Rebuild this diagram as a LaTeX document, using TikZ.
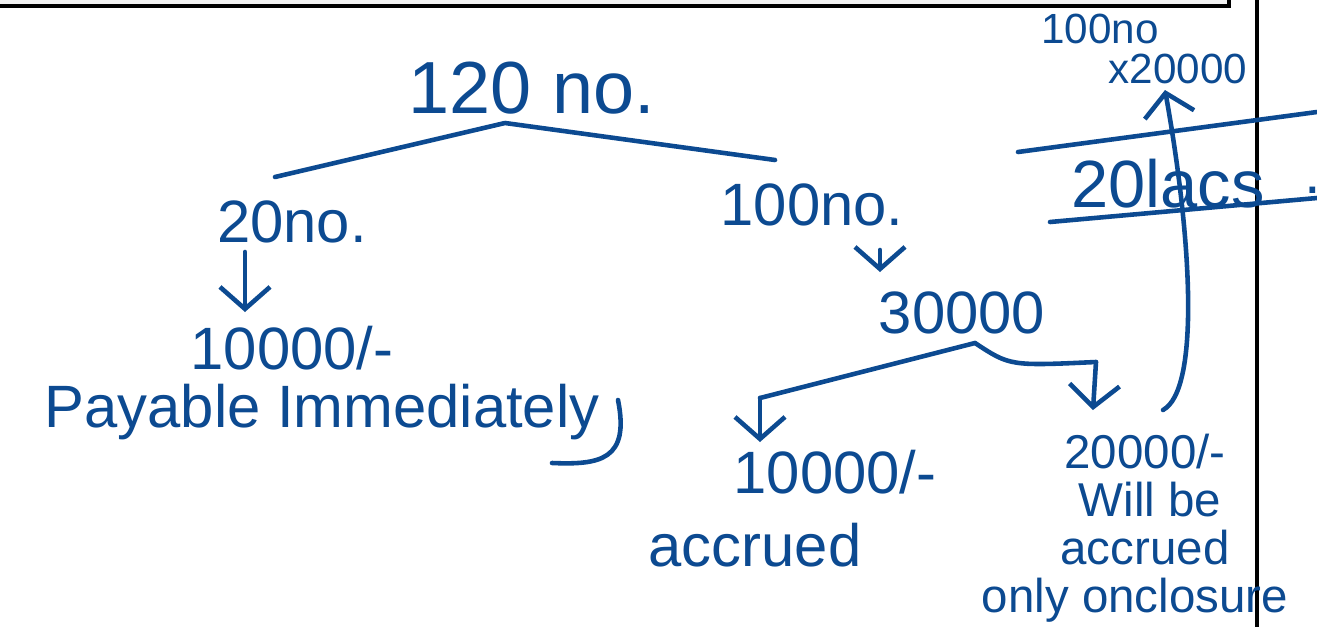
\documentclass[tikz,border=0pt]{standalone}
\usepackage{fontspec}
\setmainfont{Liberation Sans}
\usetikzlibrary{arrows.meta}
\definecolor{ink}{RGB}{12,74,145}
\begin{document}
\begin{tikzpicture}[x=0.01cm,y=-0.01cm,
  inkline/.style={draw=ink,line width=1.3pt,line cap=round,line join=round},
  lbl/.style={text=ink,inner sep=1pt},
  big/.style={font=\fontsize{21}{23}\selectfont},
  mid/.style={font=\fontsize{17}{19}\selectfont},
  small/.style={font=\fontsize{13.5}{15}\selectfont},
  tiny/.style={font=\fontsize{12}{13}\selectfont},
  tip/.style={-{Straight Barb[length=2.2mm,width=5mm,line width=1.3pt]}}]
\useasboundingbox (0,0) rectangle (1317,627);
\fill[white] (0,0) rectangle (1317,627);
\filldraw[fill=gray!10,draw=black,line width=1pt] (-5,-5) rectangle (1229,6);
\draw[black,line width=1pt] (1257,-5) -- (1257,632);

% nodes
\node[lbl,big] (n120) at (532,88) {120 no.};
\node[lbl,mid] (n20) at (292,222) {20no.};
\node[lbl,mid] (p10k) at (292,348) {10000/-};
\node[lbl,mid] (pay) at (322,412) {Payable Immediately};
\node[lbl,mid] (n100) at (812,205) {100no.};
\node[lbl,mid] (n30k) at (962,313) {30000};
\node[lbl,mid] (a10k) at (835,472) {10000/-};
\node[lbl,mid] (acc1) at (755,545) {accrued};
\node[lbl,small] (b20k) at (1145,452) {20000/-};
\node[lbl,small] (will) at (1150,500) {Will be};
\node[lbl,small] (acc2) at (1145,548) {accrued};
\node[lbl,small] (clos) at (1135,600) {only onclosure};
\node[lbl,tiny] (top100) at (1100,29) {100no};
\node[lbl,tiny] (x20k) at (1178,69) {x20000};
\node[lbl,font=\fontsize{19}{21}\selectfont] (lacs) at (1168,184) {20lacs};
\node[lbl,mid] (dot) at (1313,190) {.};

% coordinates
\coordinate (peak) at (505,123);
\coordinate (lft) at (275,177);
\coordinate (rgt) at (775,160);
\coordinate (a20s) at (245,252);
\coordinate (a20e) at (245,312);
\coordinate (a100s) at (880,250);
\coordinate (a100e) at (880,272);
\coordinate (fork) at (975,343);
\coordinate (lbend) at (760,398);
\coordinate (lend) at (760,442);
\coordinate (rbend) at (1096,362);
\coordinate (rend) at (1093,410);
\coordinate (upstart) at (1163,410);
\coordinate (upend) at (1165,90);
\coordinate (hook1) at (618,400);
\coordinate (hook2) at (552,463);

% connectors
\draw[inkline] (lft) -- (peak) -- (rgt);
\draw[inkline,tip] (a20s) -- (a20e);
\draw[inkline,tip] (a100s) -- (a100e);
\draw[inkline] (fork) -- (lbend);
\draw[inkline,tip] (lbend) -- (lend);
\draw[inkline] (fork) .. controls (1010,366) .. (rbend);
\draw[inkline,tip] (rbend) -- (rend);
\draw[inkline,tip] (upstart) .. controls (1200,390) and (1192,240) .. (upend);
\draw[inkline] (hook1) .. controls (630,460) and (600,465) .. (hook2);
\draw[inkline] (1018,152) -- (1317,112);
\draw[inkline] (1050,222) -- (1317,198);
\end{tikzpicture}
\end{document}
